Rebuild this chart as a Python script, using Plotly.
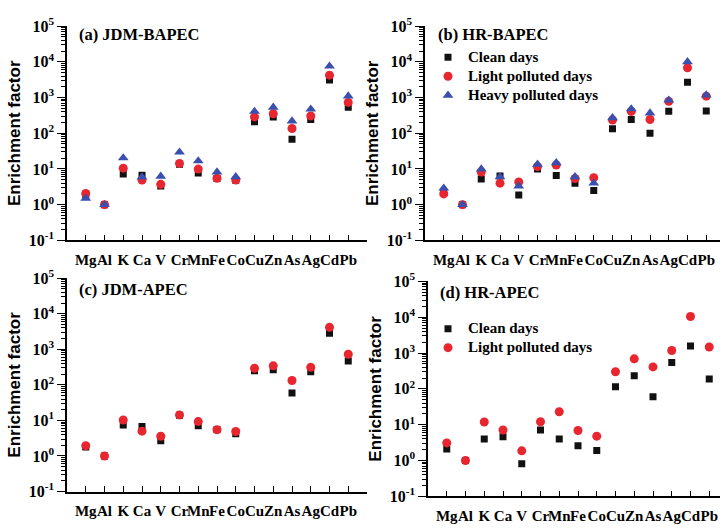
import plotly.graph_objects as go

elements = ["Mg", "Al", "K", "Ca", "V", "Cr", "Mn", "Fe", "Co", "Cu", "Zn", "As", "Ag", "Cd", "Pb"]
positions = list(range(1, len(elements) + 1))

# (a) JDM-BAPEC
a_clean = [1.9, 1.0, 7.2, 6.6, 3.3, 13.5, 7.7, 5.4, 4.8, 210, 287, 68, 243, 3100, 534]
a_light = [2.05, 1.0, 10.5, 4.9, 3.7, 14.3, 9.9, 5.5, 4.9, 287, 352, 136, 305, 4220, 729]
a_heavy = [1.5, 1.0, 20.3, 5.9, 6.2, 29.4, 16.8, 8.2, 6.0, 409, 534, 220, 472, 7560, 1100]

# (b) HR-BAPEC
b_clean = [2.2, 1.0, 5.2, 6.3, 1.85, 10.0, 6.5, 4.0, 2.5, 134, 243, 100, 410, 2680, 417]
b_light = [2.0, 1.0, 8.2, 4.0, 4.3, 11.6, 12.9, 5.4, 5.65, 234, 408, 243, 780, 6800, 1090]
b_heavy = [2.9, 1.0, 9.9, 6.0, 3.3, 13.5, 14.9, 6.0, 4.0, 270, 480, 368, 840, 10000, 1175]

# (c) JDM-APEC
c_clean = [1.8, 1.0, 7.4, 6.7, 2.7, 14.0, 7.1, 5.5, 4.2, 252, 268, 59, 233, 2820, 471]
c_light = [1.95, 1.0, 10.3, 5.0, 3.6, 14.3, 9.3, 5.5, 4.9, 293, 344, 133, 312, 4170, 728]

# (d) HR-APEC
d_clean = [2.1, 1.0, 4.0, 4.6, 0.81, 7.1, 4.0, 2.6, 1.9, 115, 231, 60, 549, 1570, 188]
d_light = [3.1, 1.0, 11.9, 7.1, 1.86, 12.1, 23, 6.9, 4.8, 302, 689, 411, 1178, 10470, 1476]

series_names = ["Clean days", "Light polluted days", "Heavy polluted days"]
panel_titles = ["(a) JDM-BAPEC", "(b) HR-BAPEC", "(c) JDM-APEC", "(d) HR-APEC"]
ytick_vals = [0.1, 1, 10, 100, 1000, 10000, 100000]
ytick_text = ["10<sup>-1</sup>", "10<sup>0</sup>", "10<sup>1</sup>", "10<sup>2</sup>",
              "10<sup>3</sup>", "10<sup>4</sup>", "10<sup>5</sup>"]
minor_vals = [k * 10 ** e for e in range(-1, 5) for k in range(2, 10)]

W, H = 720, 532
SERIF = "Liberation Serif, Times New Roman, serif"
SANS = "Liberation Sans, Arial, sans-serif"

styles = {
    "Clean days": dict(symbol="square", size=7, color="#111111"),
    "Light polluted days": dict(symbol="circle", size=9, color="#E8262F"),
    "Heavy polluted days": dict(symbol="triangle-up", size=9.5, color="#3A4FAE"),
}

fig = go.Figure()

panels = [
    (1, [a_clean, a_light, a_heavy], None),
    (2, [b_clean, b_light, b_heavy], "legend"),
    (3, [c_clean, c_light], None),
    (4, [d_clean, d_light], "legend2"),
]

for idx, data, leg in panels:
    for name, vals in zip(series_names, data):
        st = styles[name]
        fig.add_trace(go.Scatter(
            x=positions, y=vals, mode="markers",
            name="<span style='font-size:15px'>" + name + "</span>",
            marker=dict(symbol=st["symbol"], size=st["size"], color=st["color"], line=dict(width=0)),
            xaxis="x" if idx == 1 else f"x{idx}",
            yaxis="y" if idx == 1 else f"y{idx}",
            showlegend=leg is not None,
            legend=leg if leg else "legend",
        ))

def px_x(v):
    return v / W

def px_y(v):
    return (H - v) / H

# pixel geometry: (y-axis x, right end x, top y, bottom y)
geo = {
    1: (67, 367, 15.7, 238.3),
    2: (425, 720, 15.7, 238.3),
    3: (67, 367, 277.7, 499.3),
    4: (428, 720, 281.0, 504.3),
}
step = 18.75

layout = dict(
    width=W, height=H,
    margin=dict(l=0, r=0, t=0, b=0),
    paper_bgcolor="white", plot_bgcolor="white",
    showlegend=True,
    annotations=[],
)

for idx, (x0, x1, yt, yb) in geo.items():
    xs = "xaxis" if idx == 1 else f"xaxis{idx}"
    ys = "yaxis" if idx == 1 else f"yaxis{idx}"
    xr = "x" if idx == 1 else f"x{idx}"
    yr = "y" if idx == 1 else f"y{idx}"
    layout[xs] = dict(
        domain=[px_x(x0), px_x(x1)],
        range=[0, (x1 - x0) / step],
        anchor=yr,
        tickmode="array", tickvals=positions, ticktext=elements,
        tickangle=0,
        ticks="inside", ticklen=6, tickwidth=1.2, tickcolor="black",
        showline=True, linecolor="black", linewidth=1.5,
        showgrid=False, zeroline=False,
        tickfont=dict(family=SERIF, size=15, color="black", weight="bold"),
        ticklabelstandoff=5,
    )
    layout[ys] = dict(
        domain=[px_y(yb), px_y(yt)],
        type="log", range=[-1, 5],
        anchor=xr,
        tickmode="array", tickvals=ytick_vals, ticktext=ytick_text,
        ticks="outside", ticklen=8, tickwidth=1.2, tickcolor="black",
        minor=dict(tickvals=minor_vals, ticks="outside", ticklen=4, tickwidth=1, tickcolor="black", showgrid=False),
        showline=True, linecolor="black", linewidth=1.5,
        showgrid=False, zeroline=False,
        tickfont=dict(family=SERIF, size=16, color="black", weight="bold"),
        title=dict(text="Enrichment factor", font=dict(family=SANS, size=17, color="black", weight="bold"), standoff=4),
    )

title_pos = [(77, 24), (436, 24), (77, 289.3), (438, 292.7)]
for t, (tx, ty) in zip(panel_titles, title_pos):
    layout["annotations"].append(dict(
        text=t, xref="paper", yref="paper", x=px_x(tx), y=px_y(ty),
        xanchor="left", yanchor="middle", showarrow=False,
        font=dict(family=SERIF, size=16.5, color="black", weight="bold"),
    ))

legend_common = dict(
    xanchor="left", yanchor="top", bgcolor="rgba(0,0,0,0)", borderwidth=0,
    font=dict(family=SERIF, size=12, color="black", weight="bold"),
    itemwidth=30, tracegroupgap=0,
)
layout["legend"] = dict(legend_common, x=px_x(428), y=px_y(33))
layout["legend2"] = dict(legend_common, x=px_x(428), y=px_y(315))

fig.update_layout(**layout)
fig.write_html("out.html")
